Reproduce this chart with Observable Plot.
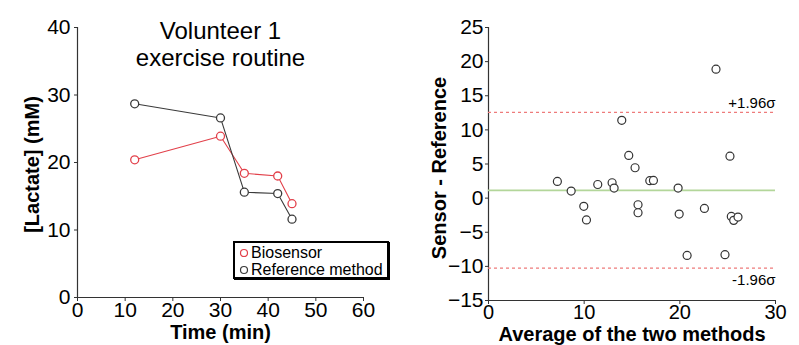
<!DOCTYPE html>
<html><head><meta charset="utf-8">
<script src="https://cdn.jsdelivr.net/npm/d3@7"></script>
<script src="https://cdn.jsdelivr.net/npm/@observablehq/plot@0.6"></script>
<style>
body{margin:0;background:#fff;font-family:"Liberation Sans",Arial,sans-serif;}
#wrap{position:relative;width:799px;height:345px;display:flex;}
#wrap svg{display:block;overflow:visible}
.legend{position:absolute;left:233px;top:241px;width:156px;height:38px;border:2px solid #000;box-shadow:1px 1px 0 #000;background:#fff;font-size:16px;line-height:17px;padding:1px 0 0 4px;box-sizing:border-box;color:#000}
.legend div{display:flex;align-items:center;white-space:nowrap}
.legend svg{margin-right:2px}
</style></head><body>
<div id="wrap"></div>
<script>
// Left panel data
const times = [12, 30, 35, 42, 45];
const biosensor = [20.4, 23.9, 18.4, 18.0, 13.9];
const reference = [28.7, 26.6, 15.6, 15.4, 11.6];
const seriesNames = ["Biosensor", "Reference method"];
const seriesColors = ["#e2404a", "#3a3a3a"];
const leftTitle = "Volunteer 1\nexercise routine";
const leftXTicks = [0, 10, 20, 30, 40, 50, 60];
const leftYTicks = [0, 10, 20, 30, 40];

// Right panel data (Bland-Altman)
const averages = [7.2, 8.64, 9.96, 10.24, 11.42, 12.92, 13.13, 13.93, 14.66, 15.32, 15.63, 15.63, 16.86, 17.24, 19.82, 19.93, 20.76, 22.57, 23.78, 24.72, 25.24, 25.38, 25.63, 26.08];
const differences = [2.44, 1.03, -1.2, -3.2, 2.0, 2.25, 1.47, 11.4, 6.25, 4.45, -0.97, -2.14, 2.55, 2.59, 1.47, -2.34, -8.39, -1.51, 18.9, -8.29, 6.15, -2.68, -3.26, -2.78];
const meanDiff = 1.13;
const upperLimit = 12.55;
const lowerLimit = -10.25;
const limitLabels = ["+1.96σ", "-1.96σ"];
const rightXTicks = [0, 10, 20, 30];
const rightYTicks = [-15, -10, -5, 0, 5, 10, 15, 20, 25];

const font = '"Liberation Sans", Arial, sans-serif';
const axisColor = "#333";

const rows = [];
seriesNames.forEach((s, k) => {
  const vals = k === 0 ? biosensor : reference;
  times.forEach((t, i) => rows.push({t, v: vals[i], s}));
});

const left = Plot.plot({
  width: 400, height: 345,
  marginLeft: 77, marginRight: 37, marginTop: 27, marginBottom: 48,
  style: {fontFamily: font, fontSize: "20px", color: "#000", background: "transparent"},
  x: {domain: [0, 60]},
  y: {domain: [0, 40]},
  color: {domain: seriesNames, range: seriesColors},
  marks: [
    Plot.axisX({ticks: leftXTicks, tickSize: 4, tickPadding: 1, label: null, stroke: axisColor, fontSize: 21}),
    Plot.axisY({ticks: leftYTicks, tickSize: 3, tickPadding: 4, label: null, stroke: axisColor, fontSize: 21}),
    Plot.ruleX([0], {stroke: axisColor, strokeWidth: 1.2}),
    Plot.ruleY([0], {stroke: axisColor, strokeWidth: 1.2}),
    Plot.line(rows, {x: "t", y: "v", z: "s", stroke: "s", strokeWidth: 1.1}),
    Plot.dot(rows, {x: "t", y: "v", stroke: "s", fill: "white", r: 4, strokeWidth: 1.3}),
    Plot.text([leftTitle], {frameAnchor: "top", lineAnchor: "top", dy: -7, fontSize: 24, lineHeight: 1.1, fill: "#000"}),
    Plot.text(["Time (min)"], {frameAnchor: "bottom", textAnchor: "middle", lineAnchor: "middle", dy: 35, fontSize: 20, fontWeight: "bold", fill: "#000"}),
    Plot.text(["[Lactate] (mM)"], {frameAnchor: "left", textAnchor: "middle", rotate: -90, dx: -45, dy: 2, fontSize: 20, fontWeight: "bold", fill: "#000"})
  ]
});

const pts = averages.map((a, i) => ({a, d: differences[i]}));
const right = Plot.plot({
  width: 399, height: 345,
  marginLeft: 88, marginRight: 24, marginTop: 27, marginBottom: 45,
  style: {fontFamily: font, fontSize: "20px", color: "#000", background: "transparent"},
  x: {domain: [0, 30]},
  y: {domain: [-15, 25]},
  marks: [
    Plot.axisX({ticks: rightXTicks, tickSize: 4, tickPadding: 0, label: null, stroke: axisColor, fontSize: 20}),
    Plot.axisY({ticks: rightYTicks, tickSize: 3, tickPadding: 2, label: null, stroke: axisColor, fontSize: 21}),
    Plot.ruleX([0], {stroke: axisColor, strokeWidth: 1.2}),
    Plot.ruleY([-15], {stroke: axisColor, strokeWidth: 1.2}),
    Plot.ruleY([meanDiff], {stroke: "#b3d69a", strokeWidth: 1.8}),
    Plot.ruleY([upperLimit, lowerLimit], {stroke: "#ee7b7b", strokeWidth: 1.2, strokeDasharray: "3,3"}),
    Plot.dot(pts, {x: "a", y: "d", r: 4, stroke: "#333", fill: "white", strokeWidth: 1.2}),
    Plot.text([upperLimit], {y: d => d, frameAnchor: "right", textAnchor: "end", dy: -9, text: () => limitLabels[0], fontSize: 15, fill: "#000"}),
    Plot.text([lowerLimit], {y: d => d, frameAnchor: "right", textAnchor: "end", dy: 12, text: () => limitLabels[1], fontSize: 15, fill: "#000"}),
    Plot.text(["Average of the two methods"], {frameAnchor: "bottom", textAnchor: "middle", lineAnchor: "middle", dy: 34, fontSize: 20, fontWeight: "bold", fill: "#000"}),
    Plot.text(["Sensor - Reference"], {frameAnchor: "left", textAnchor: "middle", rotate: -90, dx: -49, dy: 4, fontSize: 20, fontWeight: "bold", fill: "#000"})
  ]
});

const wrap = document.getElementById("wrap");
wrap.appendChild(left);
wrap.appendChild(right);

const legend = document.createElement("div");
legend.className = "legend";
seriesNames.forEach((s, k) => {
  const row = document.createElement("div");
  row.innerHTML = `<svg width="10" height="10"><circle cx="5" cy="5" r="3.5" fill="white" stroke="${seriesColors[k]}" stroke-width="1.2"/></svg>${s}`;
  legend.appendChild(row);
});
wrap.appendChild(legend);
</script>
</body></html>
